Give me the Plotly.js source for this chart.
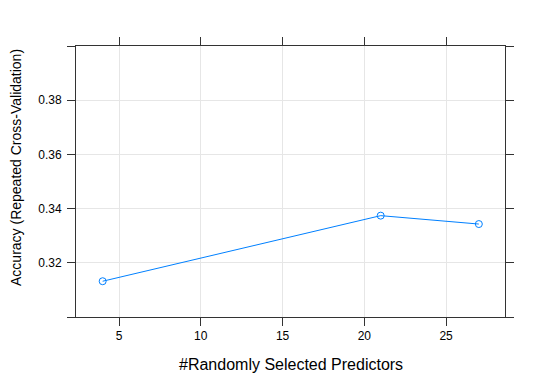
<!DOCTYPE html>
<html>
<head>
<meta charset="utf-8">
<script src="https://cdn.plot.ly/plotly-3.0.1.min.js"></script>
<style>html,body{margin:0;padding:0;background:#fff;}#chart{width:544px;height:385px;}</style>
</head>
<body>
<div id="chart"></div>
<script>
var predictors = [4, 21, 27];
var accuracy = [0.3132, 0.3374, 0.3343];
var xTickVals = [5, 10, 15, 20, 25];
var yTickVals = [0.30, 0.32, 0.34, 0.36, 0.38, 0.40];
var yTickText = ['', '0.32', '0.34', '0.36', '0.38', ''];
var xTitle = '#Randomly Selected Predictors';
var yTitle = 'Accuracy (Repeated Cross-Validation)';

var trace = {
  x: predictors,
  y: accuracy,
  type: 'scatter',
  mode: 'lines+markers',
  line: {color: '#0080ff', width: 1},
  marker: {symbol: 'circle-open', size: 7, color: '#0080ff', line: {width: 1, color: '#0080ff'}},
  hoverinfo: 'skip'
};

var axisCommon = {
  showline: true,
  linecolor: '#333333',
  linewidth: 1,
  mirror: 'ticks',
  ticks: 'outside',
  ticklen: 8,
  tickwidth: 1,
  tickcolor: '#333333',
  showgrid: true,
  gridcolor: '#e6e6e6',
  gridwidth: 1,
  zeroline: false,
  tickfont: {family: 'Liberation Sans, Arial, sans-serif', size: 12, color: '#000'}
};

var layout = {
  width: 544,
  height: 385,
  margin: {l: 75.5, r: 39, t: 46, b: 68.3, pad: 0},
  paper_bgcolor: '#ffffff',
  plot_bgcolor: '#ffffff',
  showlegend: false,
  xaxis: Object.assign({}, axisCommon, {
    range: [2.37, 28.6],
    tickmode: 'array',
    tickvals: xTickVals,
    ticktext: xTickVals.map(String)
  }),
  yaxis: Object.assign({}, axisCommon, {
    range: [0.30, 0.40],
    tickmode: 'array',
    tickvals: yTickVals,
    ticktext: yTickText,
    ticklabelstandoff: 3
  }),
  annotations: [
    {text: xTitle, xref: 'paper', yref: 'paper', x: 0.5, y: -0.1747, xanchor: 'center', yanchor: 'middle',
     showarrow: false, font: {family: 'Liberation Sans, Arial, sans-serif', size: 16, color: '#000'}},
    {text: yTitle, xref: 'paper', yref: 'paper', x: -0.1385, y: 0.552, xanchor: 'center', yanchor: 'middle',
     textangle: -90, showarrow: false, font: {family: 'Liberation Sans, Arial, sans-serif', size: 14, color: '#000'}}
  ]
};

Plotly.newPlot('chart', [trace], layout, {displayModeBar: false, staticPlot: true});
</script>
</body>
</html>
